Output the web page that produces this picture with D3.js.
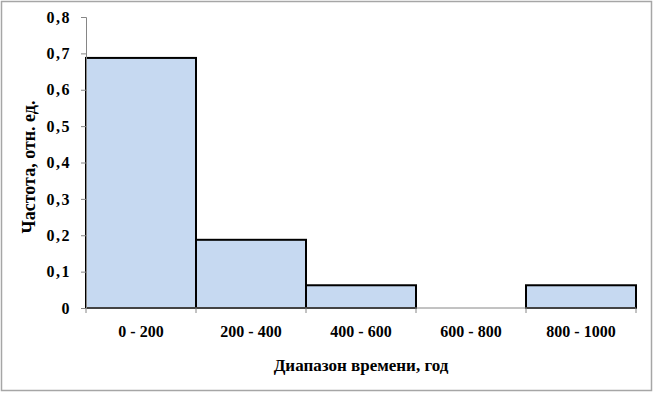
<!DOCTYPE html>
<html>
<head>
<meta charset="utf-8">
<script src="https://cdn.jsdelivr.net/npm/d3@7"></script>
<style>
  body { margin: 0; background: #fff; }
  text { font-family: "Liberation Serif", "Times New Roman", serif; font-weight: bold; fill: #000; }
</style>
</head>
<body>
<div id="chart"></div>
<script>
var ranges = ['0 - 200', '200 - 400', '400 - 600', '600 - 800', '800 - 1000'];
var freq = [0.6875, 0.1875, 0.0625, 0, 0.0625];
var yTicks = [0, 0.1, 0.2, 0.3, 0.4, 0.5, 0.6, 0.7, 0.8];

var W = 654, H = 394;
var svg = d3.select('#chart').append('svg')
            .attr('width', W)
            .attr('height', H);

// outer frame
svg.append('rect')
   .attr('x', 1.5).attr('y', 1.5)
   .attr('width', W - 4).attr('height', H - 5)
   .style('fill', '#fff')
   .style('stroke', '#a6a6a6')
   .style('stroke-width', 1.5);

var plotL = 86, plotR = 636, plotT = 17, plotB = 308;

var x = d3.scaleBand().domain(ranges).range([plotL, plotR]).padding(0);
var y = d3.scaleLinear().domain([0, 0.8]).range([plotB, plotT]);

// bars
svg.selectAll('rect.bar')
   .data(freq)
   .enter()
   .append('rect')
   .attr('class', 'bar')
   .attr('x', function (d, i) { return x(ranges[i]); })
   .attr('y', function (d) { return y(d); })
   .attr('width', x.bandwidth())
   .attr('height', function (d) { return plotB - y(d); })
   .style('fill', function (d) { return d > 0 ? '#c6d9f1' : 'none'; })
   .style('stroke', function (d) { return d > 0 ? '#000' : 'none'; })
   .style('stroke-width', 2);

// y axis
var yAxis = d3.axisLeft(y)
              .tickValues(yTicks)
              .tickSize(5)
              .tickPadding(10)
              .tickFormat(function (d) { return d === 0 ? '0' : d3.format('.1f')(d).replace('.', ','); });
var gy = svg.append('g').attr('transform', 'translate(' + plotL + ',0)').call(yAxis);
gy.select('.domain').attr('stroke', '#868686');
gy.selectAll('.tick line').attr('stroke', '#868686');
gy.selectAll('.tick text').style('font-size', '16px').style('letter-spacing', '1.5px');

// x axis
var xAxis = d3.axisBottom(x).tickSize(0).tickPadding(18);
var gx = svg.append('g').attr('transform', 'translate(0,' + plotB + ')').call(xAxis);
gx.select('.domain').attr('stroke', '#868686').attr('d', 'M' + plotL + ',0H' + plotR);
gx.selectAll('.tick text').style('font-size', '16px');

// boundary ticks on x axis
var edges = ranges.map(function (r) { return x(r); }).concat([plotR]);
gx.selectAll('line.edge')
  .data(edges)
  .enter()
  .append('line')
  .attr('class', 'edge')
  .attr('x1', function (d) { return d; })
  .attr('x2', function (d) { return d; })
  .attr('y1', 0).attr('y2', 5)
  .attr('stroke', '#868686');

// titles
svg.append('text')
   .attr('x', (plotL + plotR) / 2)
   .attr('y', 371)
   .attr('text-anchor', 'middle')
   .style('font-size', '17px')
   .text('Диапазон времени, год');

svg.append('text')
   .attr('transform', 'translate(35,167) rotate(-90)')
   .attr('text-anchor', 'middle')
   .style('font-size', '18px')
   .text('Частота, отн. ед.');
</script>
</body>
</html>
